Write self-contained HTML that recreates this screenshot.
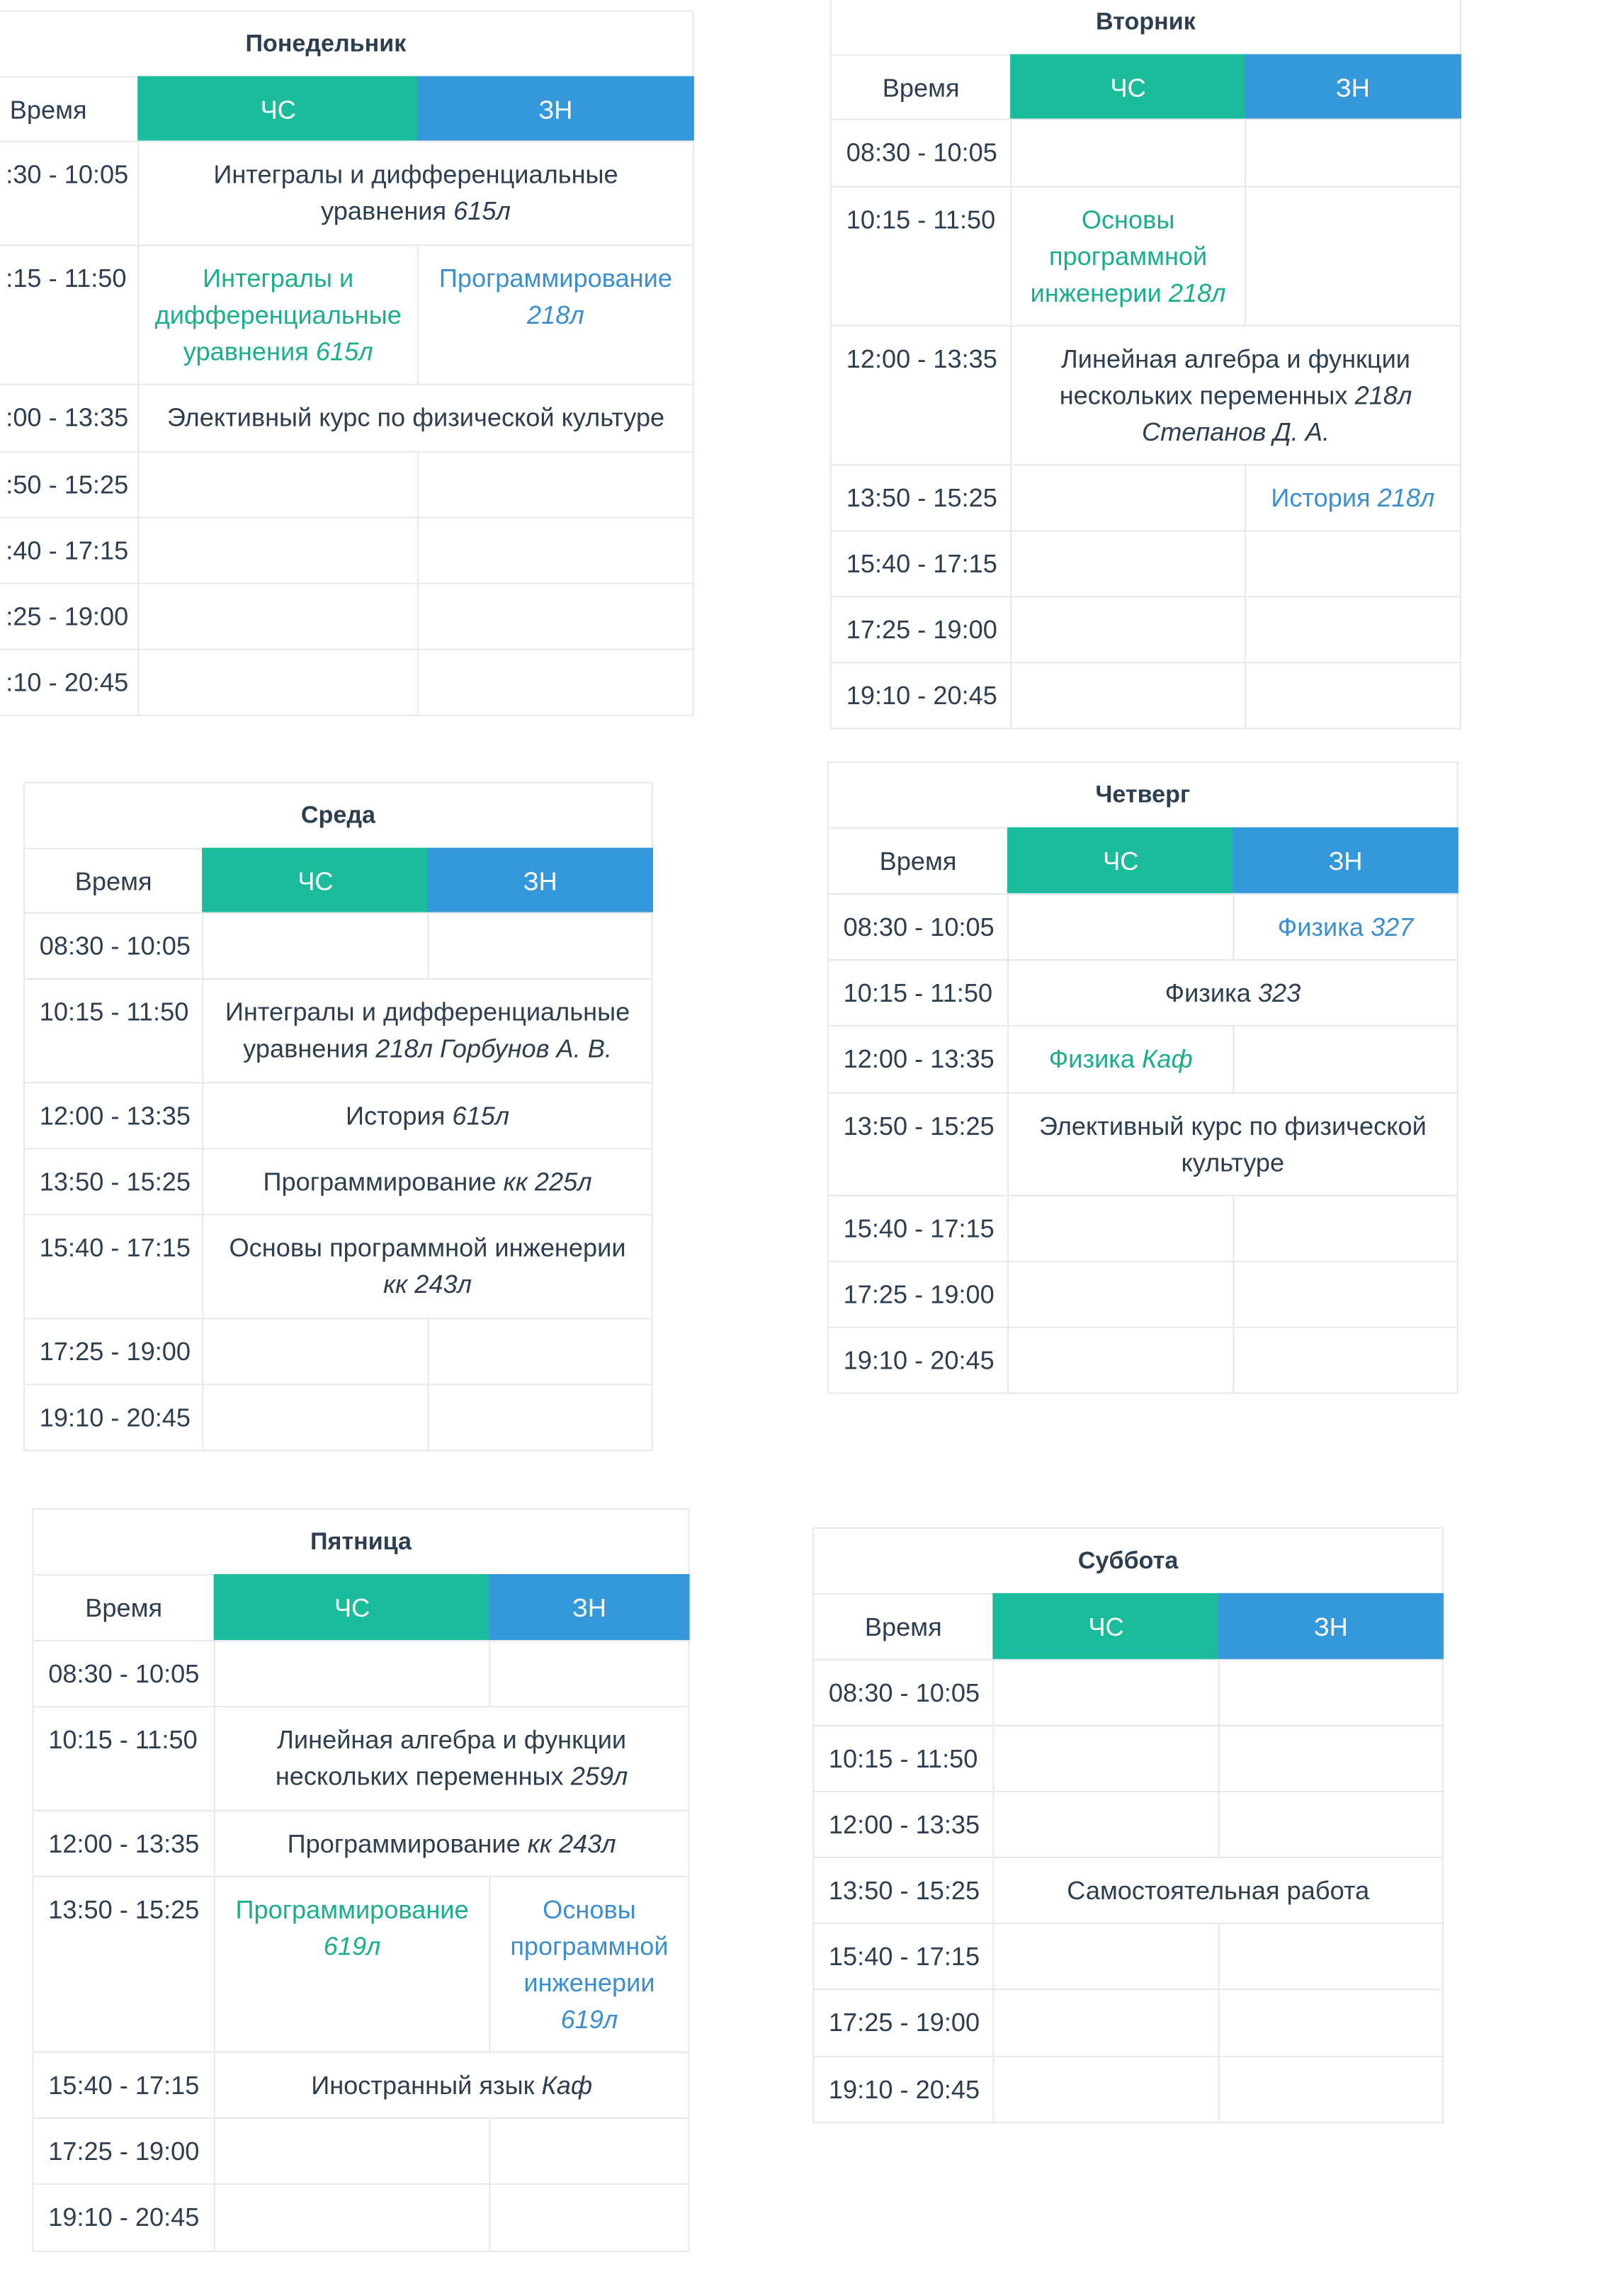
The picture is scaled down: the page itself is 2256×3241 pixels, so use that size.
<!DOCTYPE html>
<html><head><meta charset="utf-8">
<style>
html,body{margin:0;padding:0;background:#fff;}
body{width:2256px;height:3240px;overflow:hidden;position:relative;}
#stage{position:absolute;left:0;top:0;width:1092px;height:1568px;transform:scale(2.067);transform-origin:0 0;font-family:"Liberation Sans",sans-serif;color:#2c3e50;}
.c{position:absolute;box-sizing:border-box;border:1px solid #e6e9eb;font-size:17.5px;line-height:25px;padding-top:10px;text-align:center;white-space:nowrap;background:#fff;}
.t{text-align:left;padding-left:10px;}
.title{font-weight:bold;font-size:16.5px;display:flex;align-items:center;justify-content:center;padding-top:0;}
.hcs{background:#1abc9c;color:#fff;border-color:#1abc9c;}
.hzn{background:#3498db;color:#fff;border-color:#3498db;}
.g{color:#1aae8e;}
.b{color:#3b8fd0;}
i{font-style:italic;}
</style></head>
<body>
<div id="stage"></div>
<script>
const tables = [
 {name:"monday", title:"Понедельник", x:-29, y:7, tw:94, sp:285, r:473, pad:32, rows:[
  [96,167,":30 - 10:05",{s:"Интегралы и дифференциальные<br>уравнения <i>615л</i>"}],
  [167,262,":15 - 11:50",{c:"Интегралы и<br>дифференциальные<br>уравнения <i>615л</i>", z:"Программирование<br><i>218л</i>"}],
  [262,308,":00 - 13:35",{s:"Элективный курс по физической культуре"}],
  [308,353,":50 - 15:25",{}],[353,398,":40 - 17:15",{}],[398,443,":25 - 19:00",{}],[443,488,":10 - 20:45",{}]]},
 {name:"tuesday", title:"Вторник", x:567, y:-8, tw:690, sp:850, r:997, pad:10, rows:[
  [81,127,"08:30 - 10:05",{}],
  [127,222,"10:15 - 11:50",{c:"Основы<br>программной<br>инженерии <i>218л</i>"}],
  [222,317,"12:00 - 13:35",{s:"Линейная алгебра и функции<br>нескольких переменных <i>218л</i><br><i>Степанов Д. А.</i>"}],
  [317,362,"13:50 - 15:25",{z:"История <i>218л</i>"}],
  [362,407,"15:40 - 17:15",{}],[407,452,"17:25 - 19:00",{}],[452,497,"19:10 - 20:45",{}]]},
 {name:"wednesday", title:"Среда", x:16, y:534, tw:138, sp:292, r:445, pad:10, rows:[
  [623,668,"08:30 - 10:05",{}],
  [668,739,"10:15 - 11:50",{s:"Интегралы и дифференциальные<br>уравнения <i>218л Горбунов А. В.</i>"}],
  [739,784,"12:00 - 13:35",{s:"История <i>615л</i>"}],
  [784,829,"13:50 - 15:25",{s:"Программирование <i>кк 225л</i>"}],
  [829,900,"15:40 - 17:15",{s:"Основы программной инженерии<br><i>кк 243л</i>"}],
  [900,945,"17:25 - 19:00",{}],[945,990,"19:10 - 20:45",{}]]},
 {name:"thursday", title:"Четверг", x:565, y:520, tw:688, sp:842, r:995, pad:10, rows:[
  [610,655,"08:30 - 10:05",{z:"Физика <i>327</i>"}],
  [655,700,"10:15 - 11:50",{s:"Физика <i>323</i>"}],
  [700,746,"12:00 - 13:35",{c:"Физика <i>Каф</i>"}],
  [746,816,"13:50 - 15:25",{s:"Элективный курс по физической<br>культуре"}],
  [816,861,"15:40 - 17:15",{}],[861,906,"17:25 - 19:00",{}],[906,951,"19:10 - 20:45",{}]]},
 {name:"friday", title:"Пятница", x:22, y:1030, tw:146, sp:334, r:470, pad:10, rows:[
  [1120,1165,"08:30 - 10:05",{}],
  [1165,1236,"10:15 - 11:50",{s:"Линейная алгебра и функции<br>нескольких переменных <i>259л</i>"}],
  [1236,1281,"12:00 - 13:35",{s:"Программирование <i>кк 243л</i>"}],
  [1281,1401,"13:50 - 15:25",{c:"Программирование<br><i>619л</i>", z:"Основы<br>программной<br>инженерии<br><i>619л</i>"}],
  [1401,1446,"15:40 - 17:15",{s:"Иностранный язык <i>Каф</i>"}],
  [1446,1491,"17:25 - 19:00",{}],[1491,1537,"19:10 - 20:45",{}]]},
 {name:"saturday", title:"Суббота", x:555, y:1043, tw:678, sp:832, r:985, pad:10, rows:[
  [1133,1178,"08:30 - 10:05",{}],[1178,1223,"10:15 - 11:50",{}],[1223,1268,"12:00 - 13:35",{}],
  [1268,1313,"13:50 - 15:25",{s:"Самостоятельная работа"}],
  [1313,1358,"15:40 - 17:15",{}],[1358,1404,"17:25 - 19:00",{}],[1404,1449,"19:10 - 20:45",{}]]}
];
const stage = document.getElementById('stage');
function cell(cls, x, y, w, h, html){
  const d = document.createElement('div');
  d.className = 'c ' + cls;
  d.style.left = x + 'px'; d.style.top = y + 'px';
  d.style.width = (w + 1) + 'px'; d.style.height = (h + 1) + 'px';
  d.innerHTML = html || '';
  stage.appendChild(d);
  return d;
}
tables.forEach(t => {
  const hy = t.y + 45;
  let el = cell('title', t.x, t.y, t.r - t.x, 45, t.title);
  
  
  el = cell('', t.x, hy, t.tw - t.x, 45, 'Время');
  
  
  el = cell('hcs', t.tw, hy, t.sp - t.tw, 45, 'ЧС');
  
  
  el = cell('hzn', t.sp, hy, t.r - t.sp, 45, 'ЗН');
  
  
  t.rows.forEach(row => {
    const [top, bot, time, content] = row;
    const h = bot - top;
    el = cell('t', t.x, top, t.tw - t.x, h, time);
    el.style.paddingLeft = t.pad + 'px';
    
    
    if (content.s) {
      el = cell('', t.tw, top, t.r - t.tw, h, content.s);
      
      
    } else {
      el = cell('g', t.tw, top, t.sp - t.tw, h, content.c || '');
      
      
      el = cell('b', t.sp, top, t.r - t.sp, h, content.z || '');
      
      
    }
  });
});
</script>
</body></html>
